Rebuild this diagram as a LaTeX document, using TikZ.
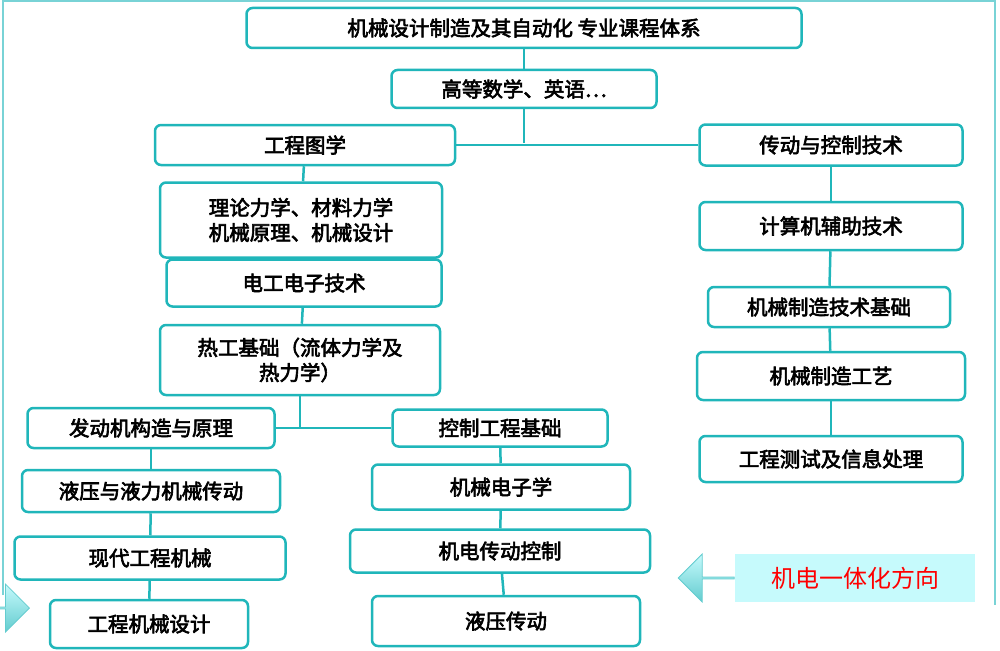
\documentclass[tikz,border=0pt]{standalone}
\usepackage{fontspec}
\setmainfont{Noto Sans CJK SC}
\newfontfamily\boldcjk{Noto Sans CJK SC}[FakeBold=3]
\definecolor{tealline}{HTML}{20B6BA}
\definecolor{callfill}{HTML}{C6FAFC}
\usetikzlibrary{shapes.arrows}

\begin{document}
\begin{tikzpicture}[
    x = 1pt, y = -1pt,
    thick,
    course/.style = {
      draw = tealline,
      line width = 2.5pt,
      rounded corners = 6pt,
      fill = white,
      inner sep = 0pt,
      align = center,
      font = \boldcjk\fontsize{20.5}{25}\selectfont},
    link/.style = {
      draw = tealline,
      line width = 2.5pt},
    bigarrow/.style = {
      single arrow,
      draw = tealline!70,
      top color = callfill,
      bottom color = tealline!70,
      minimum height = 56pt,
      minimum width = 48pt,
      single arrow head extend = 10pt,
      single arrow head indent = 0pt,
      inner sep = 0pt}
      ]
  \useasboundingbox (0,0) rectangle (1000,650);

  % Frame
  \draw[tealline!60, line width=1.5pt] (3,595) -- (3,1) -- (995,1) -- (995,605);

  % Trunk
  \node[course, minimum width=555pt, minimum height=40pt] (title) at (524,28) {机械设计制造及其自动化 专业课程体系};
  \node[course, minimum width=265pt, minimum height=38pt] (math) at (524,89) {高等数学、英语…};
  \coordinate (fork) at (524,143);

  % Left column
  \node[course, minimum width=300pt, minimum height=40pt] (draw) at (305,145) {工程图学};
  \node[course, minimum width=282pt, minimum height=75pt] (mech) at (301,220) {理论力学、材料力学\\机械原理、机械设计};
  \node[course, minimum width=275pt, minimum height=47pt] (elec) at (304,283) {电工电子技术};
  \node[course, minimum width=280pt, minimum height=70pt] (heat) at (300,360) {热工基础（流体力学及\\热力学）};
  \coordinate (split) at (300,427);

  \node[course, minimum width=247pt, minimum height=40pt] (engine) at (151,428) {发动机构造与原理};
  \node[course, minimum width=258pt, minimum height=42pt] (hydro) at (151,491) {液压与液力机械传动};
  \node[course, minimum width=271pt, minimum height=43pt] (modern) at (150,558) {现代工程机械};
  \node[course, minimum width=198pt, minimum height=48pt] (design) at (149,624) {工程机械设计};

  \node[course, minimum width=215pt, minimum height=37pt] (ctrl) at (500,428) {控制工程基础};
  \node[course, minimum width=258pt, minimum height=45pt] (mtron) at (501,487) {机械电子学};
  \node[course, minimum width=300pt, minimum height=43pt] (drive) at (500,551) {机电传动控制};
  \node[course, minimum width=268pt, minimum height=50pt] (hdrive) at (506,621) {液压传动};

  % Right column
  \node[course, minimum width=263pt, minimum height=41pt] (trans) at (831,145) {传动与控制技术};
  \node[course, minimum width=263pt, minimum height=48pt] (cad) at (831,226) {计算机辅助技术};
  \node[course, minimum width=242pt, minimum height=40pt] (mfg) at (829,307) {机械制造技术基础};
  \node[course, minimum width=268pt, minimum height=48pt] (proc) at (831,376) {机械制造工艺};
  \node[course, minimum width=263pt, minimum height=46pt] (test) at (831,459) {工程测试及信息处理};

  % Links
  \draw[link] (title) -- (math);
  \draw[link] (math) -- (fork);
  \draw[link] (draw.east) -- (trans.west);
  \draw[link] (draw) -- (mech);
  \draw[link] (elec) -- (heat);
  \draw[link] (heat.south) -- (split);
  \draw[link] (engine.east) -- (ctrl.west);
  \draw[link] (engine) -- (hydro);
  \draw[link] (hydro) -- (modern);
  \draw[link] (modern) -- (design);
  \draw[link] (ctrl) -- (mtron);
  \draw[link] (mtron) -- (drive);
  \draw[link] (drive) -- (hdrive);
  \draw[link] (trans) -- (cad);
  \draw[link] (cad) -- (mfg);
  \draw[link] (mfg) -- (proc);
  \draw[link] (proc) -- (test);

  % Direction callout
  \node[fill=callfill, minimum width=240pt, minimum height=48pt, text=red,
        font=\fontsize{24}{28}\selectfont] (dir) at (855,578) {机电一体化方向};
  \node[bigarrow, shape border rotate=180, anchor=east] (dirarrow) at (dir.west) {};
  \node[bigarrow, anchor=east] (leftarrow) at (30,608) {};
\end{tikzpicture}
\end{document}
